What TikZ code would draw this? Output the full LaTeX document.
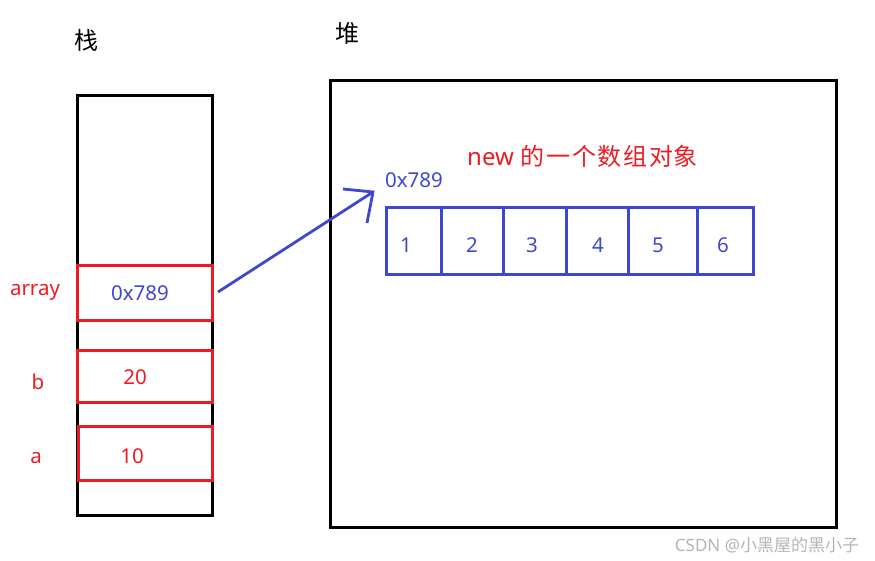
\documentclass[tikz,border=0pt]{standalone}
\usepackage{fontspec}
\setmainfont{Noto Sans}
\newfontfamily\cjk{Noto Sans CJK SC}
\definecolor{pblue}{HTML}{3F48CC}
\definecolor{pred}{HTML}{ED1C24}
\definecolor{wm}{HTML}{B4B4B4}
\begin{document}
\begin{tikzpicture}[x=1pt,y=-1pt,
  blk/.style={draw=black,line width=3pt,inner sep=0pt,outer sep=0pt},
  redbox/.style={draw=pred,line width=3pt,inner sep=0pt,outer sep=0pt,minimum width=135pt},
  cell/.style={draw=pblue,line width=3pt,inner sep=0pt,outer sep=0pt,minimum height=67pt},
  lbl/.style={inner sep=0pt,font=\fontsize{20.5}{24}\selectfont},
  title/.style={inner sep=0pt,font=\cjk\fontsize{24}{28}\selectfont}]
\useasboundingbox (0,0) rectangle (875,560);
% titles
\node[title] (tz) at (86,40) {栈};
\node[title] (td) at (347,33) {堆};
% stack
\node[blk,minimum width=135pt,minimum height=420pt] (stack) at (144.5,305) {};
\node[redbox,minimum height=55pt] (arr) at (144.5,292.5) {};
\node[redbox,minimum height=52pt] (bb) at (144.5,376) {};
\node[redbox,minimum height=54pt,minimum width=134pt] (ab) at (145,453) {};
\node[lbl,text=pred] (larr) at (35,292) {array};
\node[lbl,text=pred] (lb) at (38,382) {b};
\node[lbl,text=pred] (la) at (36,458) {a};
\node[lbl,text=pblue] (varr) at (140,293) {0x789};
\node[lbl,text=pred] (vb) at (135,377) {20};
\node[lbl,text=pred] (va) at (132,456) {10};
% heap
\node[blk,minimum width=506pt,minimum height=447pt] (heap) at (583,303.5) {};
\node[lbl,text=pred,font=\fontsize{24}{28}\selectfont,anchor=west] (newl) at (467,156) {new {\cjk\addfontfeature{LetterSpace=8}的一个数组对}{\cjk 象}};
\node[lbl,text=pblue] (haddr) at (414,180) {0x789};
% array cells
\node[cell,minimum width=55pt] (c1) at (413.5,240.5) {};
\node[cell,minimum width=62pt] (c2) at (472,240.5) {};
\node[cell,minimum width=63pt] (c3) at (534.5,240.5) {};
\node[cell,minimum width=62pt] (c4) at (597,240.5) {};
\node[cell,minimum width=69pt] (c5) at (662.5,240.5) {};
\node[cell,minimum width=56pt] (c6) at (725,240.5) {};
\node[lbl,text=pblue] (n1) at (406,245) {1};
\node[lbl,text=pblue] (n2) at (472,245) {2};
\node[lbl,text=pblue] (n3) at (532,245) {3};
\node[lbl,text=pblue] (n4) at (598,245) {4};
\node[lbl,text=pblue] (n5) at (658,245) {5};
\node[lbl,text=pblue] (n6) at (723,245) {6};
% arrow
\coordinate (as) at (218,292);
\coordinate (tip) at (373,192);
\coordinate (h1) at (343,189);
\coordinate (h2) at (367,223);
\draw[pblue,line width=2.8pt] (as) -- (tip);
\draw[pblue,line width=2.8pt] (h1) -- (tip) -- (h2);
% watermark
\node[inner sep=0pt,text=wm,font=\fontsize{17}{20}\selectfont] (wmk) at (767,545) {CSDN @{\cjk 小黑屋的黑小子}};
\end{tikzpicture}
\end{document}
